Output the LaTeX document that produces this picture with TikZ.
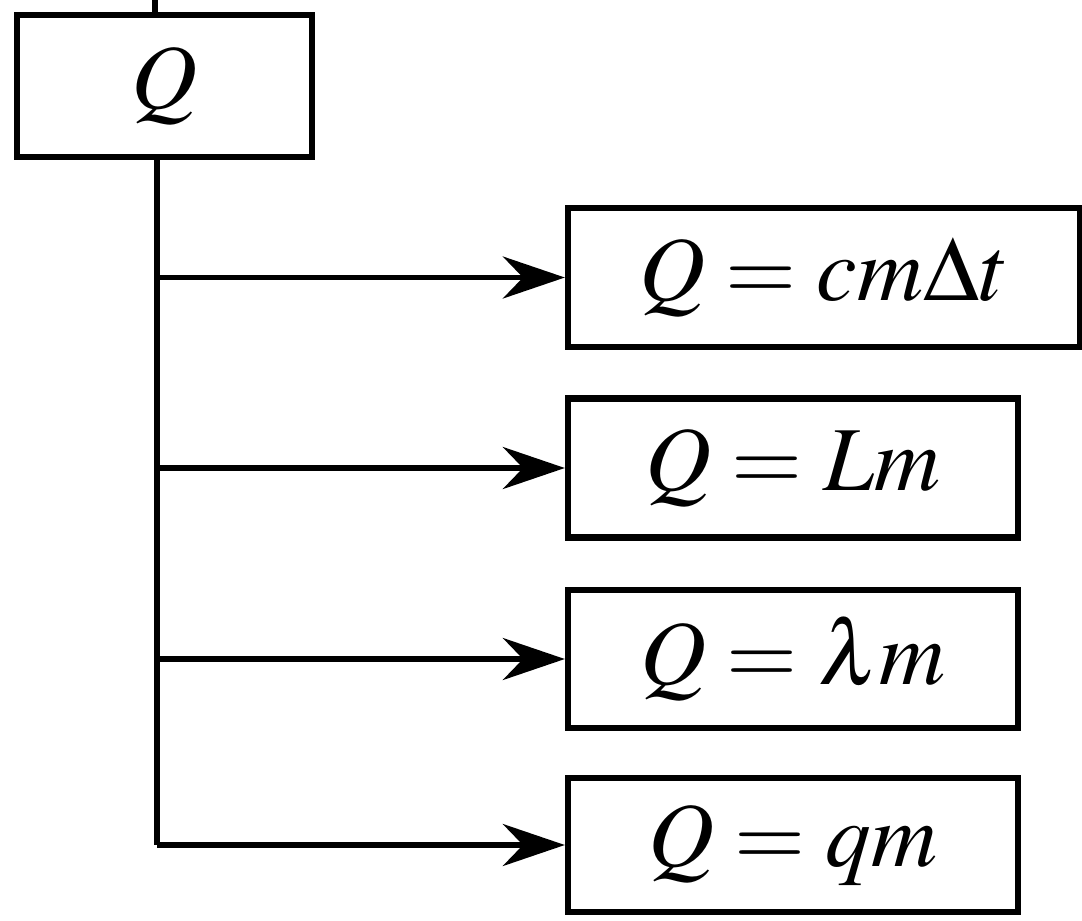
\documentclass[tikz,border=0pt]{standalone}
\usepackage{amsmath,amssymb}
\usepackage{mathptmx}
\usetikzlibrary{arrows.meta}

\begin{document}
\begin{tikzpicture}[>={Stealth[length=0.62cm,width=0.42cm]},line width=1.5pt,
    box/.style={draw,line width=1.8pt,inner sep=0pt,font=\fontsize{26}{32}\selectfont},
    formbox/.style={box,minimum width=4.5cm,minimum height=1.39cm}]
	  \useasboundingbox (0,0) rectangle (10.82,-9.2);
	  \node[box,minimum width=2.95cm,minimum height=1.42cm] (q) at (1.645,-0.86) {$Q$};
	  \node[formbox,minimum width=5.12cm] (f1) at (8.24,-2.775) {$Q = cm\Delta t$};
	  \node[formbox] (f2) at (7.93,-4.68) {$Q = Lm$};
	  \node[formbox,minimum height=1.38cm] (f3) at (7.93,-6.59) {$Q = \lambda m$};
	  \node[formbox,minimum height=1.34cm] (f4) at (7.93,-8.45) {$Q = qm$};
	  \coordinate (top) at (1.55,0);
	  \coordinate (trunk) at (1.57,0);
	  \draw (q.north -| top) -- (top);
	  \draw (q.south -| trunk) -- (f4.west -| trunk);
	  \foreach \f in {f1,f2,f3,f4}
	    \draw[->] (\f.west -| trunk) -- (\f.west);
	\end{tikzpicture}
\end{document}
